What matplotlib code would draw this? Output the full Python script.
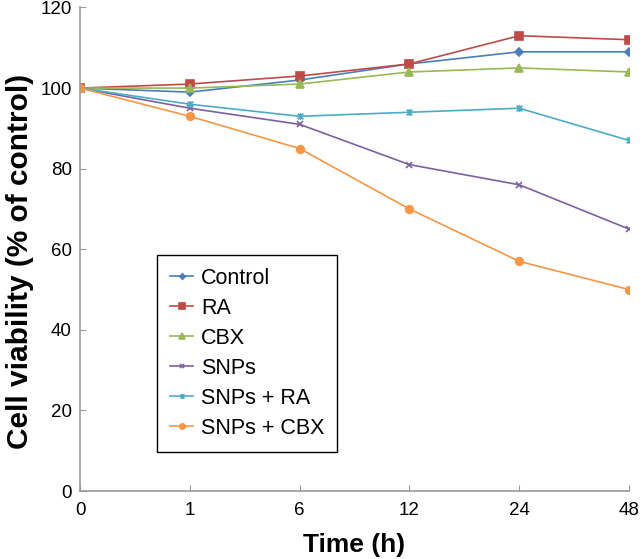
import matplotlib
matplotlib.use("Agg")
import matplotlib.pyplot as plt
from matplotlib.path import Path

plt.rcParams['font.family'] = ['Liberation Sans', 'DejaVu Sans']

times = ["0", "1", "6", "12", "24", "48"]
control = [100, 99, 102, 106, 109, 109]
ra = [100, 101, 103, 106, 113, 112]
cbx = [100, 100, 101, 104, 105, 104]
snps = [100, 95, 91, 81, 76, 65]
snps_ra = [100, 96, 93, 94, 95, 87]
snps_cbx = [100, 93, 85, 70, 57, 50]

star = Path([(-1, -1), (1, 1), (-1, 1), (1, -1), (0, -1.2), (0, 1.2)],
            [Path.MOVETO, Path.LINETO, Path.MOVETO, Path.LINETO, Path.MOVETO, Path.LINETO])

series = [
    ("Control", control, "#4a7ebb", "D", 4),
    ("RA", ra, "#be4b48", "s", 5.5),
    ("CBX", cbx, "#98b954", "^", 5.5),
    ("SNPs", snps, "#7d60a0", "x", 5),
    ("SNPs + RA", snps_ra, "#4bacc6", star, 5),
    ("SNPs + CBX", snps_cbx, "#f79646", "o", 5.5),
]

fig = plt.figure(figsize=(6.4, 5.59), dpi=100)
ax = fig.add_axes([0.125, 0.1216, 0.858, 0.865])
x = list(range(len(times)))
for name, vals, col, mk, ms in series:
    ax.plot(x, vals, color=col, marker=mk, markersize=ms, linewidth=1.2,
            markeredgewidth=1.2, label=name)

ax.set_xlim(0, len(times) - 1)
ax.set_ylim(0, 120)
ax.set_xticks(x)
ax.set_xticklabels(times)
ax.set_yticks(range(0, 121, 20))
for s in ["top", "right"]:
    ax.spines[s].set_visible(False)
for s in ["left", "bottom"]:
    ax.spines[s].set_color("#999999")
    ax.spines[s].set_linewidth(1.2)
ax.tick_params(direction="in", color="#999999", length=4, labelsize=13.5)
ax.tick_params(axis="x", pad=8)
ax.tick_params(axis="y", pad=6)
ax.set_xlabel("Time (h)", fontsize=19, fontweight="bold", labelpad=10)
ax.set_ylabel("Cell viability (% of control)", fontsize=21.5, fontweight="bold")
ax.yaxis.set_label_coords(-0.084, 0.474)

leg = ax.legend(loc="lower left", bbox_to_anchor=(0.140, 0.081), borderaxespad=0,
                fontsize=15.5, fancybox=False, edgecolor="black", framealpha=1,
                handlelength=1.1, handletextpad=0.35, labelspacing=0.42,
                borderpad=0.6, markerscale=0.7)
leg.get_frame().set_linewidth(1.0)

fig.savefig("out.png", dpi=100)
